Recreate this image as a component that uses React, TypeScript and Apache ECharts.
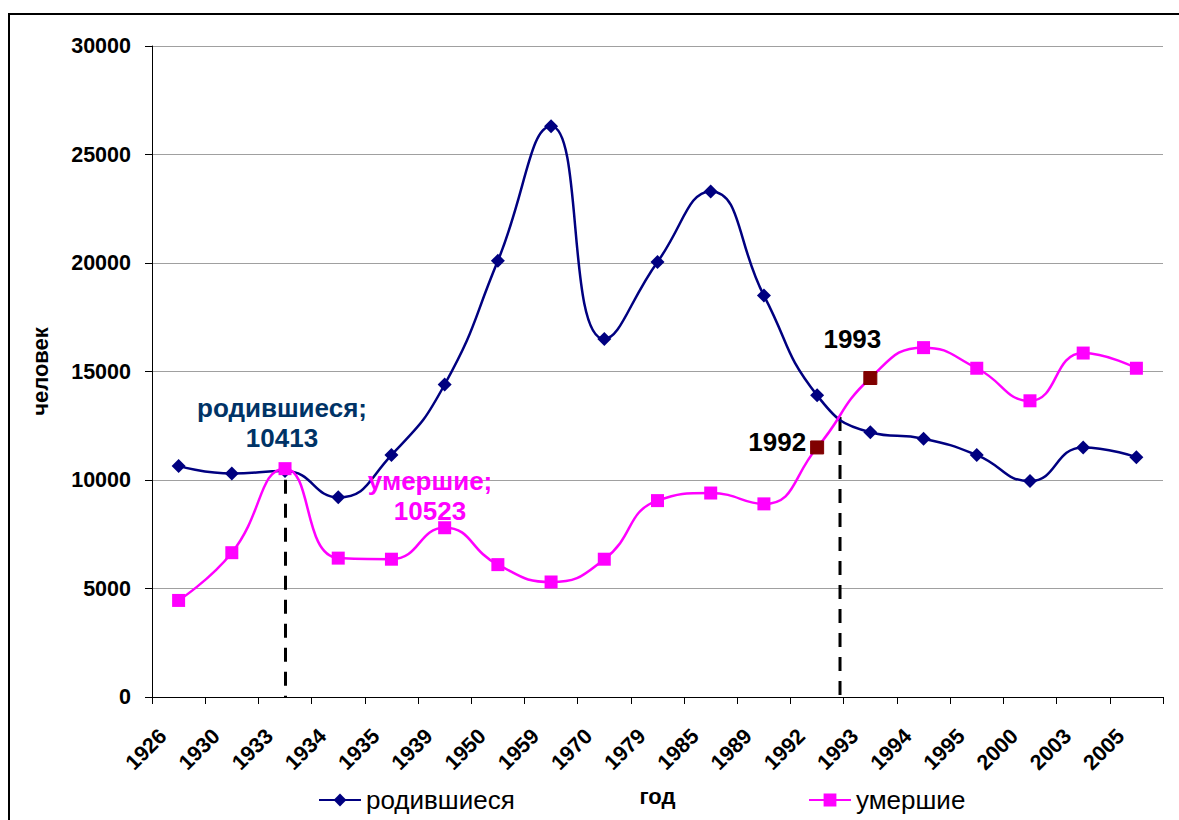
import React, { useEffect, useRef } from "react";
import * as echarts from "echarts";

const years = ["1926", "1930", "1933", "1934", "1935", "1939", "1950", "1959", "1970", "1979", "1985", "1989", "1992", "1993", "1994", "1995", "2000", "2003", "2005"];
const born = [10650, 10300, 10413, 9200, 11150, 14400, 20100, 26300, 16500, 20050, 23300, 18500, 13900, 12200, 11900, 11150, 9950, 11500, 11050];
const died = [4450, 6650, 10523, 6400, 6350, 7800, 6100, 5300, 6350, 9050, 9400, 8900, 11500, 14700, 16100, 15150, 13650, 15850, 15150];
const yTicks = { min: 0, max: 30000, interval: 5000 };
// crossing of the two curves between 1992 and 1993 (category index, value)
const crossing = { index: 12.43, value: 12900 };

const FONT = "'Liberation Sans', Arial, sans-serif";

export default function App() {
  const ref = useRef<HTMLDivElement>(null);
  useEffect(() => {
    if (!ref.current) return;
    const chart = echarts.init(ref.current, null, { renderer: "svg" });
    const bigLabel = { fontWeight: "bold", fontSize: 26, fontFamily: FONT };
    const bornData = born.map((v, i) => {
      if (years[i] === "1933") {
        return {
          value: v,
          label: {
            show: true,
            formatter: "родившиеся;\n10413",
            position: "top",
            distance: 11,
            offset: [-3, 0],
            color: "#003366",
            lineHeight: 30,
            ...bigLabel,
          },
        };
      }
      return v;
    });
    const diedData = died.map((v, i) => {
      const y = years[i];
      if (y === "1933") {
        return {
          value: v,
          label: {
            show: true,
            formatter: "умершие;\n10523",
            position: "inside",
            offset: [145, 27],
            color: "#FF00FF",
            lineHeight: 30,
            ...bigLabel,
          },
        };
      }
      if (y === "1992") {
        return {
          value: v,
          itemStyle: { color: "#800000", borderColor: "#800000" },
          label: { show: true, formatter: "1992", position: "left", distance: 4, offset: [0, -5], color: "#000", ...bigLabel },
        };
      }
      if (y === "1993") {
        return {
          value: v,
          itemStyle: { color: "#800000", borderColor: "#800000" },
          label: { show: true, formatter: "1993", position: "top", distance: 19, offset: [-18, 0], color: "#000", ...bigLabel },
        };
      }
      return v;
    });
    chart.setOption({
      animation: false,
      textStyle: { fontFamily: FONT },
      graphic: [
        {
          type: "rect",
          shape: { x: 9, y: 14, width: 1250, height: 900 },
          style: { fill: "none", stroke: "#000", lineWidth: 2 },
          silent: true,
          z: 100,
        },
      ],
      grid: { left: 152, right: 16, top: 46, bottom: 123 },
      legend: [
        {
          data: ["родившиеся"],
          left: 313,
          top: 782,
          itemWidth: 42,
          itemHeight: 16,
          itemGap: 8,
          textStyle: { fontSize: 26, color: "#000", fontFamily: FONT },
        },
        {
          data: ["умершие"],
          left: 803,
          top: 782,
          itemWidth: 42,
          itemHeight: 16,
          textStyle: { fontSize: 26, color: "#000", fontFamily: FONT },
        },
      ],
      xAxis: [
        {
          type: "category",
          data: years,
          boundaryGap: true,
          name: "год",
          nameLocation: "middle",
          nameGap: 88,
          nameTextStyle: { fontWeight: "bold", fontSize: 22, color: "#000", fontFamily: FONT },
          axisLine: { lineStyle: { color: "#000", width: 1 } },
          axisTick: { show: true, interval: 0, length: 7, lineStyle: { color: "#000" } },
          axisLabel: { interval: 0, rotate: 45, margin: 20, padding: [0, 22, 0, 0], fontWeight: "bold", fontSize: 21.5, color: "#000", fontFamily: FONT },
          splitLine: { show: false },
        },
        {
          type: "value",
          min: -0.5,
          max: years.length - 0.5,
          show: false,
          axisLine: { show: false, onZero: false },
          splitLine: { show: false },
        },
      ],
      yAxis: {
        type: "value",
        min: yTicks.min,
        max: yTicks.max,
        interval: yTicks.interval,
        name: "человек",
        nameLocation: "middle",
        nameRotate: 90,
        nameGap: 101,
        nameTextStyle: { fontWeight: "bold", fontSize: 22, color: "#000", fontFamily: FONT },
        axisLine: { show: true, onZero: false, lineStyle: { color: "#000", width: 1 } },
        axisTick: { show: true, length: 7, lineStyle: { color: "#000" } },
        axisLabel: { margin: 21, fontWeight: "bold", fontSize: 21.5, color: "#000", fontFamily: FONT, formatter: (v: number) => String(v) },
        splitLine: { show: true, lineStyle: { color: "#A0A0A0", width: 1 } },
      },
      series: [
        {
          name: "crossing",
          type: "line",
          xAxisIndex: 1,
          data: [
            [crossing.index, crossing.value],
            [crossing.index, 0],
          ],
          symbol: "none",
          silent: true,
          lineStyle: { color: "#000", type: [14, 10], width: 3 },
          z: 1,
        },
        {
          name: "родившиеся",
          type: "line",
          data: bornData,
          smooth: true,
          symbol: "diamond",
          symbolSize: 14,
          lineStyle: { color: "#000080", width: 2.5 },
          itemStyle: { color: "#000080" },
          z: 2,
          markLine: {
            silent: true,
            symbol: "none",
            label: { show: false },
            lineStyle: { color: "#000", type: [14, 10], width: 3 },
            data: [
              [
                { coord: ["1933", born[2] - 400] },
                { coord: ["1933", 0] },
              ],
            ],
          },
        },
        {
          name: "умершие",
          type: "line",
          data: diedData,
          smooth: true,
          symbol: "rect",
          symbolSize: 13,
          lineStyle: { color: "#FF00FF", width: 2.5 },
          itemStyle: { color: "#FF00FF" },
          z: 3,
        },
      ],
    });
    return () => chart.dispose();
  }, []);
  return <div ref={ref} style={{ position: "absolute", left: 0, top: 0, width: 1179, height: 820, background: "#fff" }} />;
}
